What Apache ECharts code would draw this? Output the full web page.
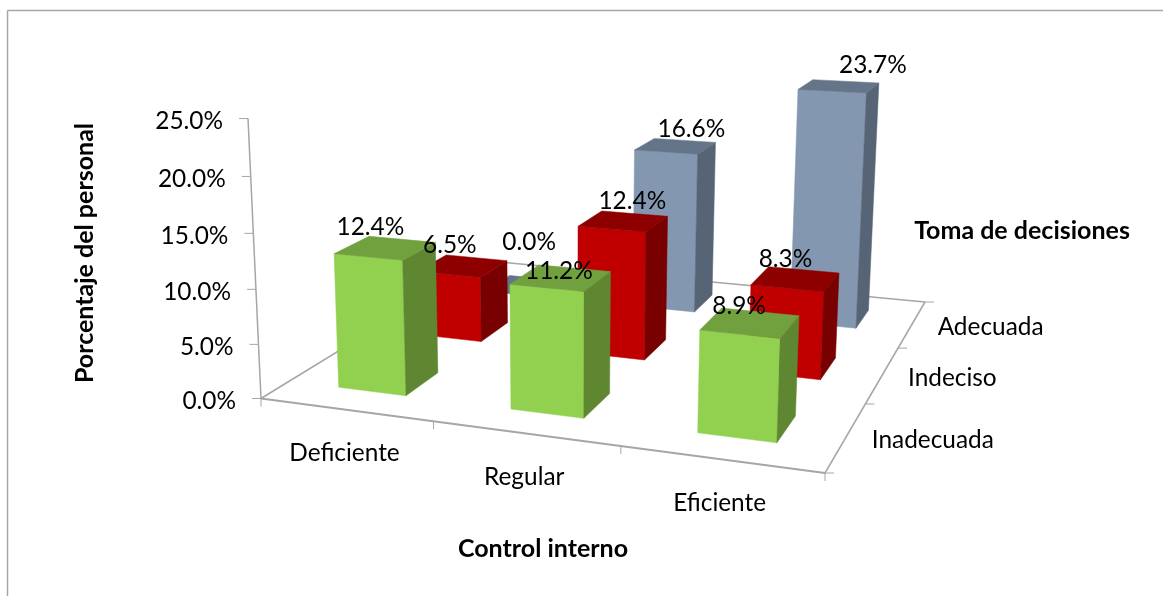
<!DOCTYPE html>
<html>
<head>
<meta charset="utf-8">
<title>Toma de decisiones y control interno</title>
<style>
  html, body { margin: 0; padding: 0; background: #fff; }
  #chart { width: 1163px; height: 596px; }
</style>
<script src="https://cdn.jsdelivr.net/npm/echarts@6/dist/echarts.min.js"></script>
</head>
<body>
<div id="chart"></div>
<script>
// Chart values
const categories = ['Deficiente', 'Regular', 'Eficiente'];
const depthLevels = ['Inadecuada', 'Indeciso', 'Adecuada'];
const inadecuada = [12.4, 11.2, 8.9];
const indeciso = [6.5, 12.4, 8.3];
const adecuada = [0.0, 16.6, 23.7];
const valueTicks = [0, 5, 10, 15, 20, 25];
const titleValue = 'Porcentaje del personal';
const titleCategory = 'Control interno';
const titleDepth = 'Toma de decisiones';

// Face colours per level: front, side, top
const facePalette = {
  Inadecuada: ['#92D050', '#5F8732', '#71A03F'],
  Indeciso: ['#C00000', '#780000', '#8E0000'],
  Adecuada: ['#8497B0', '#566475', '#647589']
};

// Hand-placed data label shifts [dx, dy] by depth level and category
const labelShift = {
  Inadecuada: [[-15, -21], [-2, -7], [-11, -17]],
  Indeciso: [[-13, -21], [9, -20], [-10, -20]],
  Adecuada: [[3, -44], [16, -17], [34, -21]]
};

const FONT = 'Lato, Carlito, "Open Sans", sans-serif';
const LABEL_SIZE = 24.4;
const TITLE_SIZE = 25;
const AXIS_COLOR = '#A6A6A6';
const VALUE_MAX = 25;
const BAR_GAP = 0.3; // share of a cell left empty on each side of a bar

// Flat plotting grid: its scales give the position inside the unit box
const GRID = { left: 261, top: 118.5, width: 564, height: 280 };

// Camera: floor plane homography plus a vertical vanishing direction
const cam = (function () {
  const p = [[261, 398.5], [825, 473], [925, 302], [486, 260.7]];
  const dx1 = p[1][0] - p[2][0], dx2 = p[3][0] - p[2][0];
  const sx = p[0][0] - p[1][0] + p[2][0] - p[3][0];
  const dy1 = p[1][1] - p[2][1], dy2 = p[3][1] - p[2][1];
  const sy = p[0][1] - p[1][1] + p[2][1] - p[3][1];
  const det = dx1 * dy2 - dx2 * dy1;
  const g = (sx * dy2 - dx2 * sy) / det;
  const h = (dx1 * sy - sx * dy1) / det;
  const zw = -0.001644, vx = 564, vy = 6930;
  return {
    a: p[1][0] - p[0][0] + g * p[1][0], b: p[3][0] - p[0][0] + h * p[3][0], c: p[0][0],
    d: p[1][1] - p[0][1] + g * p[1][1], e: p[3][1] - p[0][1] + h * p[3][1], f: p[0][1],
    g: g, h: h, zw: zw, zx: vx * zw, zy: vy * zw
  };
})();

// x and z are in category and depth cells, value in percent
function project(api, x, z, value) {
  const pt = api.coord([x, value]);
  const u = (pt[0] - GRID.left) / GRID.width;
  const v = z / depthLevels.length;
  const t = (GRID.top + GRID.height - pt[1]) / GRID.height * VALUE_MAX;
  const w = 1 + cam.g * u + cam.h * v + cam.zw * t;
  return [
    (cam.a * u + cam.b * v + cam.c + cam.zx * t) / w,
    (cam.d * u + cam.e * v + cam.f + cam.zy * t) / w
  ];
}

function poly(points, fill) {
  return { type: 'polygon', shape: { points: points }, style: { fill: fill, stroke: fill, lineWidth: 0.5 } };
}

function segment(a, b, width) {
  return {
    type: 'line',
    shape: { x1: a[0], y1: a[1], x2: b[0], y2: b[1] },
    style: { stroke: AXIS_COLOR, lineWidth: width || 1.5 }
  };
}

function label(text, x, y, align, extra) {
  return {
    type: 'text',
    style: Object.assign({
      text: text, x: x, y: y, align: align, verticalAlign: 'middle',
      fill: '#000', fontFamily: FONT, fontSize: LABEL_SIZE
    }, extra || {})
  };
}

function renderBar(level) {
  const colors = facePalette[level];
  const z = depthLevels.indexOf(level);
  return function (params, api) {
    const cat = api.value(0), val = api.value(1);
    const x0 = cat + BAR_GAP, x1 = cat + 1 - BAR_GAP;
    const z0 = z + BAR_GAP, z1 = z + 1 - BAR_GAP;
    const fb = [x0, z0], fr = [x1, z0], br = [x1, z1], bl = [x0, z1];
    const lo = c => project(api, c[0], c[1], 0);
    const hi = c => project(api, c[0], c[1], val);
    return {
      type: 'group',
      children: [
        poly([lo(fb), lo(fr), hi(fr), hi(fb)], colors[0]),
        poly([lo(fr), lo(br), hi(br), hi(fr)], colors[1]),
        poly([hi(fb), hi(fr), hi(br), hi(bl)], colors[2])
      ]
    };
  };
}

function renderLabel(level) {
  const z = depthLevels.indexOf(level);
  return function (params, api) {
    const cat = api.value(0), val = api.value(1);
    const p = project(api, cat + 0.5, z + 0.5, val);
    const s = labelShift[level][cat];
    return label(val.toFixed(1) + '%', p[0] + s[0], p[1] + s[1], 'center');
  };
}

// Floor outline, tick marks and tick labels of the three axes
function renderFrame(params, api) {
  const nx = categories.length, nz = depthLevels.length;
  const c00 = project(api, 0, 0, 0), c10 = project(api, nx, 0, 0);
  const c11 = project(api, nx, nz, 0), c01 = project(api, 0, nz, 0);
  const top = project(api, 0, 0, VALUE_MAX);
  const kids = [
    segment(c00, c10, 2), segment(c10, c11), segment(c11, c01), segment(c01, c00), segment(c00, top)
  ];
  for (let i = 0; i <= nx; i++) {
    const p = project(api, i, 0, 0);
    kids.push(segment(p, [p[0], p[1] + 8], 1));
    if (i < nx) {
      const m = project(api, i + 0.5, 0, 0);
      kids.push(label(categories[i], m[0] - 1, m[1] + 43.5, 'center'));
    }
  }
  for (let j = 0; j <= nz; j++) {
    const p = project(api, nx, j, 0);
    kids.push(segment(p, [p[0] + 9, p[1]], 1));
    if (j < nz) {
      const m = project(api, nx, j + 0.5, 0);
      kids.push(label(depthLevels[j], m[0] + 25.5, m[1] + 3.5, 'left'));
    }
  }
  valueTicks.forEach(function (t) {
    const p = project(api, 0, 0, t);
    kids.push(segment([p[0] - 9, p[1]], p, 1));
    kids.push(label(t.toFixed(1) + '%', p[0] - 25, p[1] + 3, 'right'));
  });
  return { type: 'group', children: kids };
}

function barSeries(level, values, order) {
  return {
    name: level,
    type: 'custom',
    coordinateSystem: 'cartesian2d',
    clip: false,
    silent: true,
    z: 5 + order,
    renderItem: renderBar(level),
    data: values.map((v, i) => [i, v])
  };
}

function labelSeries(level, values) {
  return {
    name: level + ' etiquetas',
    type: 'custom',
    coordinateSystem: 'cartesian2d',
    clip: false,
    silent: true,
    z: 20,
    renderItem: renderLabel(level),
    data: values.map((v, i) => [i, v])
  };
}

const chart = echarts.init(document.getElementById('chart'), null, { renderer: 'canvas' });
chart.setOption({
  animation: false,
  backgroundColor: '#fff',
  grid: { left: GRID.left, top: GRID.top, width: GRID.width, height: GRID.height },
  xAxis: { type: 'value', min: 0, max: categories.length, show: false },
  yAxis: { type: 'value', min: 0, max: VALUE_MAX, show: false },
  graphic: [
    { type: 'line', silent: true, shape: { x1: 7.5, y1: 10.5, x2: 1163, y2: 10.5 }, style: { stroke: AXIS_COLOR, lineWidth: 1.5 } },
    { type: 'line', silent: true, shape: { x1: 7.5, y1: 10.5, x2: 7.5, y2: 596 }, style: { stroke: AXIS_COLOR, lineWidth: 1.5 } },
    { type: 'text', silent: true, x: 85, y: 253, rotation: Math.PI / 2, style: { text: titleValue, align: 'center', verticalAlign: 'middle', fill: '#000', fontFamily: FONT, fontWeight: 'bold', fontSize: TITLE_SIZE } },
    { type: 'text', silent: true, x: 543, y: 549, style: { text: titleCategory, align: 'center', verticalAlign: 'middle', fill: '#000', fontFamily: FONT, fontWeight: 'bold', fontSize: TITLE_SIZE } },
    { type: 'text', silent: true, x: 1022, y: 231, style: { text: titleDepth, align: 'center', verticalAlign: 'middle', fill: '#000', fontFamily: FONT, fontWeight: 'bold', fontSize: TITLE_SIZE } }
  ],
  series: [
    { name: 'Ejes', type: 'custom', coordinateSystem: 'cartesian2d', clip: false, silent: true, z: 2, renderItem: renderFrame, data: [[0, 0]] },
    barSeries('Adecuada', adecuada, 0),
    barSeries('Indeciso', indeciso, 1),
    barSeries('Inadecuada', inadecuada, 2),
    labelSeries('Adecuada', adecuada),
    labelSeries('Indeciso', indeciso),
    labelSeries('Inadecuada', inadecuada)
  ]
});
</script>
</body>
</html>
